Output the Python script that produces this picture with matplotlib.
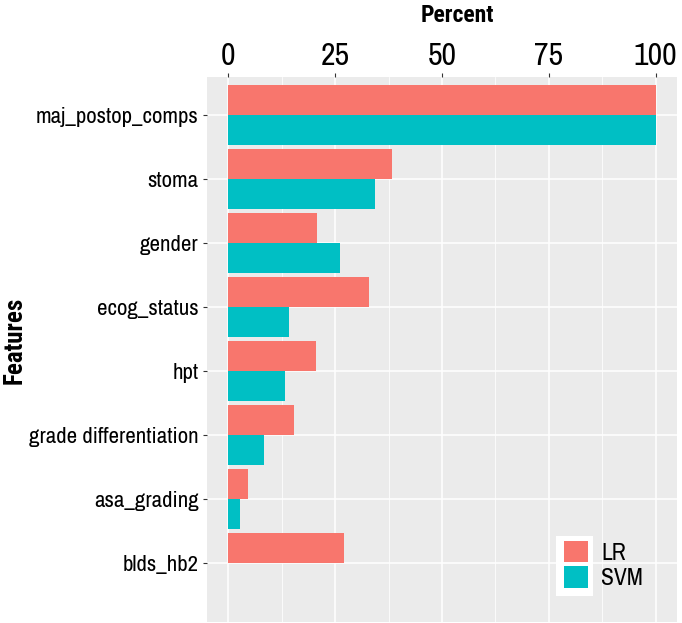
import matplotlib
matplotlib.use("Agg")
import matplotlib.pyplot as plt
from matplotlib.patches import Patch, Rectangle
import numpy as np

features = ["maj_postop_comps", "stoma", "gender", "ecog_status", "hpt",
            "grade differentiation", "asa_grading", "blds_hb2"]
lr_values = [100, 38.2, 20.8, 33.0, 20.6, 15.3, 4.5, 27.1]
svm_values = [100, 34.3, 26.2, 14.2, 13.2, 8.4, 2.7, 0]
x_ticks = [0, 25, 50, 75, 100]
series_names = ["LR", "SVM"]
colors = ["#F8766D", "#00BFC4"]

font = ["Archivo Narrow", "Roboto Condensed", "Liberation Sans", "DejaVu Sans"]
bold_font = ["Roboto Condensed", "Liberation Sans", "DejaVu Sans"]
plt.rcParams['font.family'] = font

fig = plt.figure(figsize=(6.82, 6.23), dpi=100)
ax = fig.add_axes([207/682, 1-622/623, 470/682, 545/623])
ax.set_facecolor("#EBEBEB")

n = len(features)
pos = np.arange(n)
bw = 0.47
ax.barh(pos - bw/2, lr_values, height=bw, color=colors[0], zorder=3)
ax.barh(pos + bw/2, svm_values, height=bw, color=colors[1], zorder=3)

ax.set_xlim(-5, 105)
ax.set_ylim(n - 1 + 0.92, -0.59)

ax.set_xticks(x_ticks)
ax.set_xticks([12.5, 37.5, 62.5, 87.5], minor=True)
ax.set_yticks(pos)
ax.set_yticklabels(features)
ax.xaxis.tick_top()
ax.xaxis.set_label_position("top")
ax.tick_params(axis="x", which="major", labelsize=23, length=3, color="#333333", pad=2)
ax.tick_params(axis="x", which="minor", length=0)
ax.tick_params(axis="y", labelsize=16.5, length=3, color="#333333", pad=3)
ax.grid(which="major", color="white", linewidth=1.1, zorder=0)
ax.grid(which="minor", axis="x", color="white", linewidth=0.55, zorder=0)
ax.set_axisbelow(True)
for s in ax.spines.values():
    s.set_visible(False)

ax.set_xlabel("Percent", fontsize=17, fontweight="bold", family=bold_font)
ax.xaxis.set_label_coords((457 - 207) / 470, 1 + (77 - 22) / 545)
ax.set_ylabel("Features", fontsize=18, fontweight="bold", family=bold_font)
ax.yaxis.set_label_coords((27 - 207) / 470, 1 - (340 - 77) / 545)

# legend: white background only behind keys
fig.patches.append(Rectangle((556/682, 1-596/623), 37/682, 60/623,
                             transform=fig.transFigure, facecolor="white",
                             edgecolor="none", zorder=4))
handles = [Patch(facecolor=c, edgecolor="none") for c in colors]
leg = fig.legend(handles, series_names, loc="upper left",
                 bbox_to_anchor=(564/682, 1-541/623), frameon=False,
                 fontsize=17, handlelength=1.02, handleheight=1.0,
                 handletextpad=0.55, labelspacing=0.12, borderpad=0.0,
                 borderaxespad=0)
leg.set_zorder(5)

fig.savefig("out.png", dpi=100)
